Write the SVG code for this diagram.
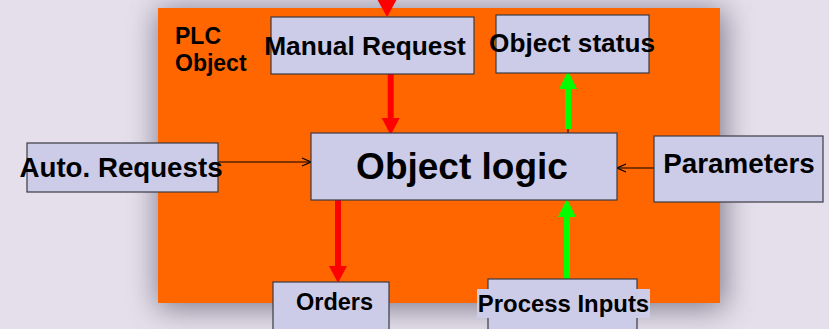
<svg xmlns="http://www.w3.org/2000/svg" width="829" height="329" viewBox="0 0 829 329">
  <style>
    .box { fill: #cccce8; stroke: #3a3a44; stroke-width: 1.2; }
    .lbl { font-family: "Liberation Sans", Arial, sans-serif; font-weight: bold; fill: #000; text-anchor: middle; }
    .thin { stroke: #000; stroke-width: 1.2; fill: none; }
    .red { fill: #ff0000; }
    .green { fill: #00ff00; }
  </style>
  <defs>
    <filter id="soft" x="-30%" y="-30%" width="160%" height="160%">
      <feGaussianBlur stdDeviation="15"/>
    </filter>
    <marker id="open" markerWidth="12" markerHeight="12" refX="10" refY="5" orient="auto" markerUnits="userSpaceOnUse">
      <path d="M1,1 L10,5 L1,9" fill="none" stroke="#000" stroke-width="1.3"/>
    </marker>
  </defs>

  <!-- page background -->
  <rect x="0" y="0" width="829" height="329" fill="#e4dfeb"/>
  <!-- shadow under the object frame -->
  <rect x="158" y="10" width="566" height="298" fill="#6d6677" opacity="0.85" filter="url(#soft)"/>

  <!-- PLC object frame -->
  <g id="plc-object">
    <rect x="158" y="8" width="562" height="295" fill="#ff6600"/>
    <text class="lbl" x="175" y="44" font-size="23" style="text-anchor:start">PLC</text>
    <text class="lbl" x="175" y="71" font-size="23" style="text-anchor:start">Object</text>
  </g>

  <!-- connectors -->
  <g id="connectors">
    <!-- incoming manual request from above -->
    <path class="red" d="M377,-1 L397,-1 L387,17 Z"/>
    <!-- manual request -> object logic -->
    <rect class="red" x="387.7" y="74" width="6" height="45"/>
    <path class="red" d="M381.7,118 L399.7,118 L390.7,135 Z"/>
    <!-- object logic -> object status -->
    <line x1="568" y1="128" x2="568" y2="133" stroke="#000" stroke-width="1"/>
    <rect class="green" x="565" y="88" width="6" height="41"/>
    <path class="green" d="M559,89 L577,89 L568,71 Z"/>
    <!-- object logic -> orders -->
    <rect class="red" x="335" y="200" width="6" height="67"/>
    <path class="red" d="M329,266 L347,266 L338,283 Z"/>
    <!-- process inputs -> object logic -->
    <rect class="green" x="564" y="216" width="6" height="72"/>
    <path class="green" d="M558,217 L576,217 L567,199 Z"/>
    <!-- auto requests -> object logic -->
    <line class="thin" x1="218" y1="162" x2="311" y2="162" marker-end="url(#open)"/>
    <!-- parameters -> object logic -->
    <line class="thin" x1="654" y1="168" x2="617" y2="168" marker-end="url(#open)"/>
  </g>

  <g id="manual-request">
    <rect class="box" x="271" y="17" width="203" height="57"/>
    <text class="lbl" x="365" y="55" font-size="26.3">Manual Request</text>
  </g>

  <g id="object-status">
    <rect class="box" x="496" y="15" width="153" height="58"/>
    <text class="lbl" x="572" y="52" font-size="26.2">Object status</text>
  </g>

  <g id="object-logic">
    <rect class="box" x="311" y="133" width="306" height="67"/>
    <text class="lbl" x="462" y="179" font-size="37">Object logic</text>
  </g>

  <g id="auto-requests">
    <rect class="box" x="27" y="143" width="191" height="49"/>
    <text class="lbl" x="121" y="177" font-size="27.7">Auto. Requests</text>
  </g>

  <g id="parameters">
    <rect class="box" x="654" y="136" width="169" height="66"/>
    <text class="lbl" x="739" y="173" font-size="27.8">Parameters</text>
  </g>

  <g id="orders">
    <rect class="box" x="273" y="282" width="116" height="60"/>
    <text class="lbl" x="334.5" y="310" font-size="23.5">Orders</text>
  </g>

  <g id="process-inputs">
    <rect class="box" x="488" y="279" width="149" height="60"/>
    <rect x="477" y="289" width="173" height="29" fill="#cccce8"/>
    <text class="lbl" x="563.5" y="312" font-size="23.9">Process Inputs</text>
  </g>
</svg>
